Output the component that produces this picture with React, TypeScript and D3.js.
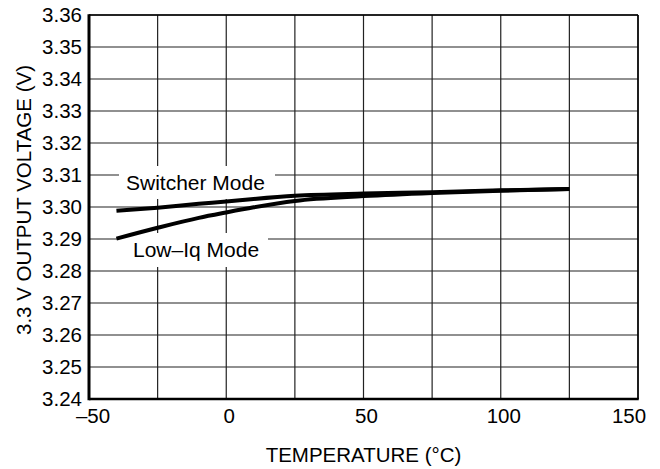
import React from "react";
import * as d3 from "d3";

const temps = [-40, -25, -10, 0, 10, 25, 50, 75, 100, 125];
const switcherMode = [3.2988, 3.2998, 3.3010, 3.3017, 3.3025, 3.3035, 3.3042, 3.3046, 3.3052, 3.3056];
const lowIqMode = [3.2901, 3.2935, 3.2966, 3.2983, 3.2999, 3.3019, 3.3034, 3.3044, 3.3051, 3.3056];
const xTicks = [-50, -25, 0, 25, 50, 75, 100, 125, 150];
const xTickLabels = ["\u201350", "", "0", "", "50", "", "100", "", "150"];
const yTicks = [3.24, 3.25, 3.26, 3.27, 3.28, 3.29, 3.3, 3.31, 3.32, 3.33, 3.34, 3.35, 3.36];

const W = 660, H = 469;
const L = 89, R = 638, T = 15, B = 399;
const FONT = "'Liberation Sans', Arial, Helvetica, sans-serif";

export default function App() {
  const x = d3.scaleLinear().domain([-50, 150]).range([L, R]);
  const y = d3.scaleLinear().domain([3.24, 3.36]).range([B, T]);
  const line = d3.line<number>().x((_, i) => x(temps[i])).y(d => y(d)).curve(d3.curveMonotoneX);
  const labelShift = (i: number) => (i === 0 ? 4 : i === xTicks.length - 1 ? -9 : 3);

  return (
    <svg width={W} height={H} style={{ position: "absolute", left: 0, top: 0, background: "#fff" }} fontFamily={FONT}>
      <rect x={0} y={0} width={W} height={H} fill="#fff" />
      {xTicks.map(t => (
        <line key={"gx" + t} x1={x(t)} x2={x(t)} y1={T} y2={B} stroke="#222" strokeWidth={1.2} />
      ))}
      {yTicks.map(t => (
        <line key={"gy" + t} x1={L} x2={R} y1={y(t)} y2={y(t)} stroke="#222" strokeWidth={1.2} />
      ))}
      {/* label backgrounds */}
      <rect x={119} y={166} width={156} height={33} fill="#fff" />
      <rect x={118} y={233} width={150} height={34} fill="#fff" />
      <text x={126} y={190} fontSize={21} fill="#000">Switcher Mode</text>
      <text x={133} y={257} fontSize={21} fill="#000">Low–Iq Mode</text>
      {/* curves */}
      <path d={line(switcherMode) || ""} fill="none" stroke="#000" strokeWidth={4} />
      <path d={line(lowIqMode) || ""} fill="none" stroke="#000" strokeWidth={4} />
      {/* frame */}
      <line x1={L} x2={R} y1={T} y2={T} stroke="#000" strokeWidth={1.5} />
      <line x1={R} x2={R} y1={T} y2={B} stroke="#000" strokeWidth={1.5} />
      <line x1={L} x2={R + 0.75} y1={B} y2={B} stroke="#000" strokeWidth={2.5} />
      <line x1={L} x2={L} y1={T - 0.75} y2={B + 1.25} stroke="#000" strokeWidth={3} />
      {/* tick labels */}
      {yTicks.map(t => (
        <text key={"ty" + t} x={82} y={y(t)} dy="0.36em" fontSize={20.5} textAnchor="end" fill="#000">
          {t.toFixed(2)}
        </text>
      ))}
      {xTicks.map((t, i) => (
        xTickLabels[i] ? (
          <text key={"tx" + t} x={x(t) + labelShift(i)} y={423} fontSize={20.5} textAnchor="middle" fill="#000">
            {xTickLabels[i]}
          </text>
        ) : null
      ))}
      <text x={(L + R) / 2} y={462} fontSize={20.5} textAnchor="middle" fill="#000">TEMPERATURE (°C)</text>
      <text transform={`translate(31, 200) rotate(-90)`} fontSize={20.5} textAnchor="middle" fill="#000">
        3.3 V OUTPUT VOLTAGE (V)
      </text>
    </svg>
  );
}
